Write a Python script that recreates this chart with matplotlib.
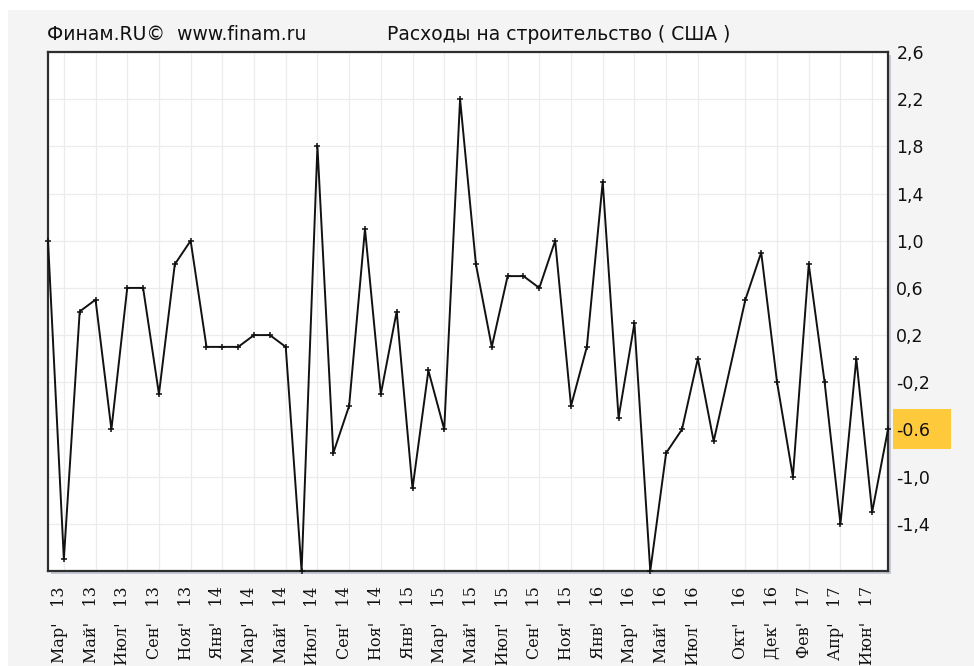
import matplotlib
matplotlib.use("Agg")
import matplotlib.pyplot as plt
from matplotlib.patches import Rectangle
import matplotlib.transforms as mtransforms

# monthly data, Sep 2016 missing in the source
dates = ['2013-02', '2013-03', '2013-04', '2013-05', '2013-06', '2013-07', '2013-08',
         '2013-09', '2013-10', '2013-11', '2013-12',
         '2014-01', '2014-02', '2014-03', '2014-04', '2014-05', '2014-06', '2014-07',
         '2014-08', '2014-09', '2014-10', '2014-11', '2014-12',
         '2015-01', '2015-02', '2015-03', '2015-04', '2015-05', '2015-06', '2015-07',
         '2015-08', '2015-09', '2015-10', '2015-11', '2015-12',
         '2016-01', '2016-02', '2016-03', '2016-04', '2016-05', '2016-06', '2016-07',
         '2016-08', '2016-10', '2016-11', '2016-12',
         '2017-01', '2017-02', '2017-03', '2017-04', '2017-05', '2017-06', '2017-07']
values = [1.0, -1.7, 0.4, 0.5, -0.6, 0.6, 0.6, -0.3, 0.8, 1.0, 0.1,
          0.1, 0.1, 0.2, 0.2, 0.1, -1.8, 1.8, -0.8, -0.4, 1.1, -0.3, 0.4,
          -1.1, -0.1, -0.6, 2.2, 0.8, 0.1, 0.7, 0.7, 0.6, 1.0, -0.4, 0.1,
          1.5, -0.5, 0.3, -1.8, -0.8, -0.6, 0.0, -0.7, 0.5, 0.9, -0.2,
          -1.0, 0.8, -0.2, -1.4, 0.0, -1.3, -0.6]
month_names = ['Янв', 'Фев', 'Мар', 'Апр', 'Май', 'Июн',
               'Июл', 'Авг', 'Сен', 'Окт', 'Ноя', 'Дек']
y_ticks = [2.6, 2.2, 1.8, 1.4, 1.0, 0.6, 0.2, -0.2, -0.6, -1.0, -1.4]
last_label = '-0.6'

W, H = 974, 666
fig = plt.figure(figsize=(W / 100, H / 100), dpi=100)
fig.patch.set_facecolor('white')

# grey panel and plot shadow
fig.patches.append(Rectangle((8 / W, 0), 1, 1 - 10 / H, transform=fig.transFigure,
                             facecolor='#f4f4f4', edgecolor='none', zorder=-3))
fig.patches.append(Rectangle((51 / W, (H - 574) / H), 840 / W, 519 / H,
                             transform=fig.transFigure, facecolor='#c5cad4',
                             edgecolor='none', zorder=-2))

ax = fig.add_axes([48 / W, (H - 571) / H, 840 / W, 519 / H])
ax.set_facecolor('white')

xs = []
for d in dates:
    yr, mo = d.split('-')
    xs.append((int(yr) - 2013) * 12 + int(mo) - 2)

ax.plot(xs, values, color='#111111', lw=1.4, marker='+', ms=5, mew=1.1,
        clip_on=False, zorder=3)

ax.set_xlim(xs[0], xs[-1])
ax.set_ylim(-1.8, 2.6)

tick_x = xs[1::2]
tick_lab = []
for d in dates[1::2]:
    yr, mo = d.split('-')
    tick_lab.append(f"{month_names[int(mo) - 1]}'   {yr[2:]}")
ax.set_xticks(tick_x)
ax.set_xticklabels(tick_lab, rotation=90, rotation_mode='anchor', ha='right',
                   va='baseline', fontsize=11.5, family='DejaVu Serif', color='#111111')
ax.tick_params(axis='x', length=0, pad=11)

ax.yaxis.tick_right()
ax.set_yticks(y_ticks)
ylabs = [f'{v:.1f}'.replace('.', ',') for v in y_ticks]
ylabs[y_ticks.index(-0.6)] = last_label
ax.set_yticklabels(ylabs, fontsize=12.5, family='DejaVu Sans', color='#111111')
ax.tick_params(axis='y', length=0, pad=6)

ax.grid(True, color='#ececec', lw=0.9)
ax.set_axisbelow(True)
for s in ax.spines.values():
    s.set_color('#2e2e2e')
    s.set_linewidth(1.6)

# highlighted last value on the right axis (below the tick labels)
trans = mtransforms.blended_transform_factory(ax.transAxes, ax.transData)
ax.add_patch(Rectangle((1 + 5 / 840, -0.764), 58 / 840, 0.339, transform=trans,
                       facecolor='#ffc93c', edgecolor='none', clip_on=False, zorder=0.2))

fig.text(47 / W, (H - 40) / H, 'Финам.RU©  www.finam.ru', fontsize=13.5,
         family='DejaVu Sans', color='#111111', ha='left', va='baseline')
fig.text(387 / W, (H - 40) / H, 'Расходы на строительство ( США )', fontsize=13.5,
         family='DejaVu Sans', color='#111111', ha='left', va='baseline')

fig.savefig('out.png', dpi=100)
